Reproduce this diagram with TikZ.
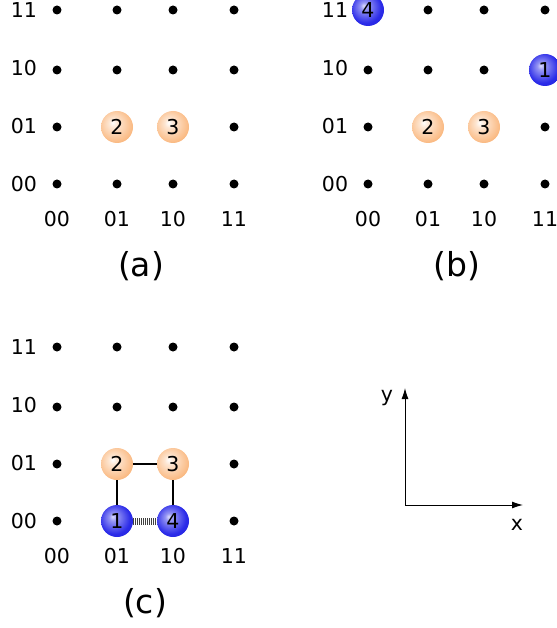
\documentclass[tikz,border=0pt]{standalone}
\usepackage{fontspec}
\setmainfont{DejaVu Sans}
\usetikzlibrary{arrows.meta}
\definecolor{peach}{RGB}{248,155,75}
\definecolor{deepblue}{RGB}{20,20,230}
\pgfdeclareradialshading{peachball}{\pgfpoint{-7bp}{7bp}}{color(0bp)=(white); color(7bp)=(peach!25); color(28bp)=(peach!70); color(52bp)=(peach)}
\pgfdeclareradialshading{blueball}{\pgfpoint{-7bp}{7bp}}{color(0bp)=(deepblue!15); color(6bp)=(deepblue!45); color(24bp)=(deepblue!90); color(52bp)=(deepblue!90!black)}
\begin{document}
\begin{tikzpicture}[x=1pt,y=-1pt,
    dot/.style={circle,fill=black,inner sep=0pt,minimum size=9pt},
    lbl/.style={font=\fontsize{20.5}{20.5}\selectfont},
    captxt/.style={font=\fontsize{33}{33}\selectfont},
    ball/.style={circle,inner sep=0pt,minimum size=32pt,font=\fontsize{20.5}{20.5}\selectfont},
    oball/.style={ball,shading=peachball},
    bball/.style={ball,shading=blueball},
    axis/.style={line width=1pt,-{Latex[length=11pt,width=7pt]}}]
    \useasboundingbox (0,0) rectangle (556,628);
    \foreach \p/\ox/\oy/\capx in {a/0/0/141,b/311/0/457,c/0/337/145}{
        \foreach \i/\cx/\code in {0/57/00,1/117/01,2/173/10,3/234/11}{
            \node[lbl] (\p-x\i) at (\cx+\ox,219+\oy) {\code};
            \node[lbl] (\p-y\i) at (24+\ox,184-58*\i+\oy) {\code};
            \foreach \j/\cy in {0/184,1/127,2/70,3/10}
                \node[dot] (\p-\i-\j) at (\cx+\ox,\cy+\oy) {};
        }
        \node[captxt] (\p-cap) at (\capx,266+\oy) {(\p)};
    }
    % (a)
    \node[oball] (a2) at (a-1-1) {2};
    \node[oball] (a3) at (a-2-1) {3};
    % (b)
    \node[oball] (b2) at (b-1-1) {2};
    \node[oball] (b3) at (b-2-1) {3};
    \node[bball] (b4) at (b-0-3) {4};
    \node[bball] (b1) at (b-3-2) {1};
    % (c)
    \node[oball] (c2) at (c-1-1) {2};
    \node[oball] (c3) at (c-2-1) {3};
    \node[bball] (c1) at (c-1-0) {1};
    \node[bball] (c4) at (c-2-0) {4};
    \draw[line width=1.5pt] (c1) -- (c2) -- (c3) -- (c4);
    \draw[line width=7pt,dash pattern=on 1pt off 1pt,black!75] (c1) -- (c4);
    % axes
    \coordinate (o) at (405,505);
    \coordinate (yend) at (405,388);
    \coordinate (xend) at (523,505);
    \draw[axis] (o) -- (yend);
    \draw[axis] (o) -- (xend);
    \node[lbl] (ylbl) at (387,398) {y};
    \node[lbl] (xlbl) at (517,525) {x};
\end{tikzpicture}
\end{document}
